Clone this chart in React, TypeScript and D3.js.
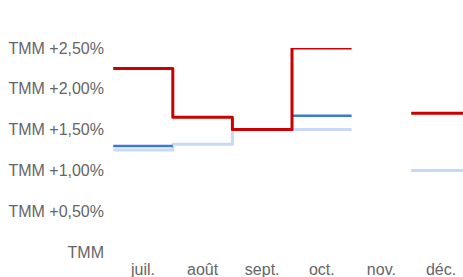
import React from "react";
import * as d3 from "d3";

const months = ["juil.", "août", "sept.", "oct.", "nov.", "déc."];
const redValues = [2.25, 1.65, 1.5, 2.5, null, 1.7];
const darkBlueValues = [1.3, null, null, 1.67, null, null];
const lightBlueValues = [1.25, 1.32, 1.5, 1.5, null, 1.0];
const yTicks = [0, 0.5, 1, 1.5, 2, 2.5];
const yTickLabels = ["TMM", "TMM +0,50%", "TMM +1,00%", "TMM +1,50%", "TMM +2,00%", "TMM +2,50%"];

const W = 463;
const H = 277;

export default function App() {
  const x = d3.scaleBand<string>().domain(months).range([113.2, 470.8]).padding(0);
  const y = d3.scaleLinear().domain([0, 2.5]).range([252, 48]);

  // every month becomes a flat segment over its band, so joins are vertical steps
  const stepPoints = (vals: (number | null)[]) => {
    const pts: { x: number; v: number | null }[] = [];
    months.forEach((m, i) => {
      const x0 = x(m) as number;
      pts.push({ x: x0, v: vals[i] });
      pts.push({ x: x0 + x.bandwidth(), v: vals[i] });
    });
    return pts;
  };

  const line = d3
    .line<{ x: number; v: number | null }>()
    .defined(d => d.v !== null)
    .x(d => d.x)
    .y(d => y(d.v as number));

  const series = [
    { vals: lightBlueValues, color: "#c6d9f6", width: 3 },
    { vals: darkBlueValues, color: "#3c78d8", width: 2.5 },
    { vals: redValues, color: "#cc0000", width: 3 }
  ];

  const font = "'Liberation Sans', Arial, sans-serif";

  return (
    <svg
      width={W}
      height={H}
      style={{ position: "absolute", left: 0, top: 0, background: "#fff" }}
    >
      <defs>
        <clipPath id="plot">
          <rect x={110} y={48} width={W - 110} height={210} />
        </clipPath>
      </defs>
      {yTicks.map((t, i) => (
        <text
          key={t}
          x={104}
          y={y(t)}
          dy="0.35em"
          textAnchor="end"
          fontFamily={font}
          fontSize={16}
          fill="#666"
        >
          {yTickLabels[i]}
        </text>
      ))}
      {months.map(m => (
        <text
          key={m}
          x={(x(m) as number) + x.bandwidth() / 2}
          y={269}
          dy="0.35em"
          textAnchor="middle"
          fontFamily={font}
          fontSize={16}
          fill="#666"
        >
          {m}
        </text>
      ))}
      <g clipPath="url(#plot)">
        {series.map((s, i) => (
          <path
            key={i}
            d={line(stepPoints(s.vals)) || ""}
            fill="none"
            stroke={s.color}
            strokeWidth={s.width}
            strokeLinejoin="round"
          />
        ))}
      </g>
    </svg>
  );
}
